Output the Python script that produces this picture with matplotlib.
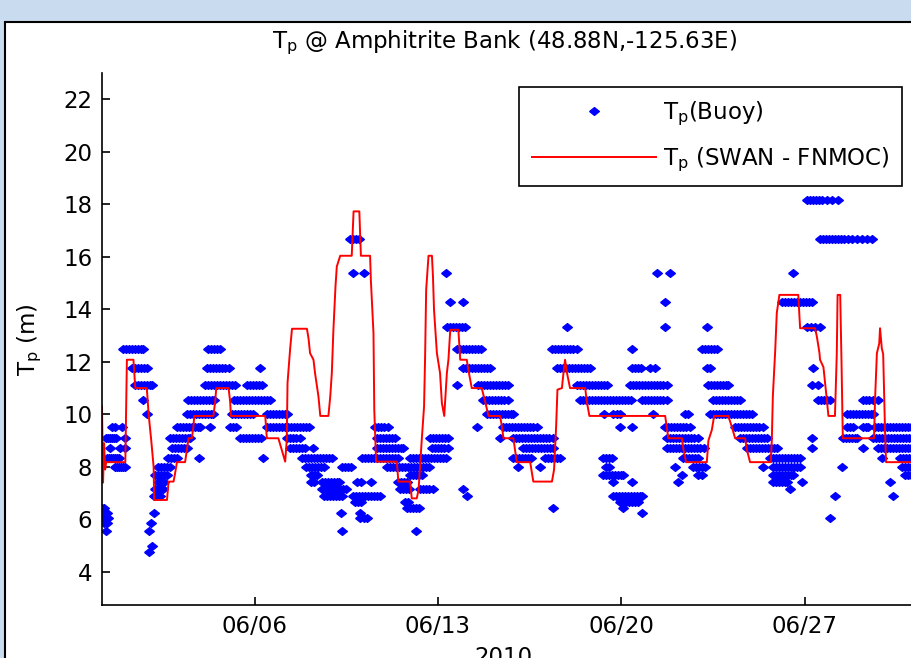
import matplotlib

matplotlib.use("Agg")
from datetime import datetime

import matplotlib.dates as mdates
import matplotlib.pyplot as plt
import numpy as np
from matplotlib.patches import Rectangle

# days after 2010-06-01 00:00
model_day = [
    -0.82, -0.78, -0.74, -0.70, -0.66, 0.07, 0.10, 0.13, 0.38, 0.45,
    0.89, 0.96, 1.06, 1.15, 1.17, 1.66, 1.72, 1.91, 1.97, 2.04,
    2.35, 2.42, 2.48, 2.61, 2.67, 2.70, 3.43, 3.50, 3.54, 4.01,
    4.07, 4.10, 5.41, 5.47, 5.91, 6.17, 6.23, 6.26, 6.36, 6.43,
    7.00, 7.06, 7.12, 7.25, 7.31, 7.44, 7.51, 7.82, 7.89, 7.95,
    8.01, 8.09, 8.14, 8.27, 8.71, 8.78, 9.00, 9.06, 9.41, 9.44,
    9.54, 9.57, 9.64, 10.43, 10.49, 10.94, 11.00, 11.19, 11.26, 11.39,
    11.47, 11.51, 11.55, 11.64, 11.77, 11.81, 11.85, 11.96, 12.08, 12.15,
    12.24, 12.34, 12.40, 12.47, 12.78, 12.85, 13.10, 13.16, 13.29, 13.67,
    13.80, 13.93, 14.37, 14.44, 14.50, 14.88, 14.94, 15.01, 15.52, 15.64,
    16.35, 16.43, 16.51, 16.56, 16.73, 16.79, 16.85, 16.92, 17.04, 17.62,
    17.68, 17.78, 20.67, 20.73, 20.79, 21.31, 21.37, 21.47, 22.26, 22.32,
    22.45, 22.54, 23.08, 23.21, 23.34, 23.72, 23.79, 23.91, 24.70, 24.74,
    24.78, 24.87, 24.93, 25.03, 25.75, 25.82, 26.39, 26.46, 26.56, 26.58,
    26.71, 26.84, 26.90, 27.15, 27.22, 27.25, 27.35, 27.40, 27.45, 28.64,
    28.68, 28.75, 28.84, 28.87, 28.94, 28.99, 29.06, 29.10, 30.09,
]
model_tp = [
    10.3, 7.4, 8.9, 7.9, 8.18, 8.18, 10.1, 12.08, 12.08, 11.0,
    11.0, 10.0, 9.0, 8.0, 6.74, 6.74, 7.44, 7.44, 7.76, 8.18,
    8.18, 8.65, 9.09, 9.09, 9.54, 9.94, 9.94, 10.49, 11.0, 11.0,
    10.49, 9.94, 9.94, 9.09, 9.09, 8.2, 9.0, 11.2, 12.5, 13.26,
    13.26, 12.9, 12.33, 12.08, 11.57, 10.68, 9.94, 9.94, 10.68, 11.57,
    13.2, 14.87, 15.63, 16.04, 16.04, 17.73, 17.73, 16.04, 16.04, 15.12,
    13.09, 10.17, 8.2, 8.2, 7.44, 7.44, 6.8, 6.8, 7.12, 9.15,
    10.3, 12.2, 14.74, 16.04, 16.04, 15.25, 13.98, 12.33, 11.57, 10.43,
    9.94, 11.57, 12.08, 13.22, 13.22, 12.08, 12.08, 11.7, 11.0, 11.0,
    10.49, 9.94, 9.94, 9.54, 9.09, 9.09, 8.65, 8.18, 8.18, 7.44,
    7.44, 7.89, 9.54, 10.94, 11.0, 11.57, 12.08, 11.6, 11.0, 11.0,
    10.49, 9.94, 9.94, 9.54, 9.09, 9.09, 8.65, 8.18, 8.18, 9.0,
    9.4, 9.94, 9.94, 9.54, 9.09, 9.09, 8.65, 8.18, 8.18, 9.0,
    10.7, 12.43, 13.86, 14.55, 14.55, 13.28, 13.28, 12.96, 12.33, 12.08,
    11.8, 10.56, 9.94, 9.94, 12.33, 14.55, 14.55, 12.0, 9.09, 9.09,
    10.56, 12.33, 12.7, 13.28, 12.5, 12.3, 9.4, 8.18, 8.18,
]

# buoy peak period bins and the days each bin was reported
buoy_bins = [
    (18.18, [26.09, 26.20, 26.31, 26.43, 26.54, 26.66, 26.85, 27.04, 27.27]),
    (16.67, [8.65, 8.76, 8.88, 8.99, 26.58, 26.70, 26.81, 26.93, 27.04, 27.15, 27.27, 27.38,
             27.50, 27.65, 27.80, 27.99, 28.18, 28.38, 28.57]),
    (15.38, [8.76, 9.18, 12.31, 20.36, 20.86, 25.55]),
    (14.29, [12.47, 12.96, 20.67, 25.13, 25.24, 25.36, 25.47, 25.59, 25.70, 25.82, 25.93, 26.04,
             26.16, 26.27]),
    (13.33, [12.35, 12.47, 12.58, 12.69, 12.81, 12.92, 13.04, 16.93, 20.67, 22.27, 26.09, 26.24,
             26.39, 26.58]),
    (12.5, [-0.01, 0.10, 0.22, 0.33, 0.45, 0.56, 0.68, 0.75, 3.23, 3.35, 3.46, 3.58, 3.69, 12.73,
            12.85, 12.96, 13.08, 13.19, 13.30, 13.42, 13.53, 13.65, 16.36, 16.47, 16.59, 16.70,
            16.81, 16.93, 17.04, 17.16, 17.31, 19.41, 22.08, 22.19, 22.31, 22.42, 22.54, 22.65]),
    (11.76, [0.33, 0.45, 0.56, 0.68, 0.79, 0.90, 3.19, 3.31, 3.42, 3.54, 3.65, 3.77, 3.88, 4.03,
             5.22, 12.96, 13.08, 13.19, 13.30, 13.42, 13.53, 13.65, 13.76, 13.88, 13.99, 16.55,
             16.66, 16.78, 16.89, 17.01, 17.12, 17.23, 17.35, 17.46, 17.58, 17.69, 17.81, 19.41,
             19.52, 19.64, 19.75, 20.10, 20.29, 22.27, 22.38, 26.31]),
    (11.11, [0.45, 0.56, 0.68, 0.79, 0.90, 1.02, 1.10, 3.12, 3.23, 3.35, 3.46, 3.58, 3.69, 3.80,
             3.92, 4.03, 4.15, 4.26, 4.72, 4.83, 4.95, 5.06, 5.18, 5.29, 12.73, 13.53, 13.65,
             13.76, 13.88, 13.99, 14.11, 14.22, 14.33, 14.45, 14.56, 14.68, 17.31, 17.42, 17.54,
             17.65, 17.77, 17.88, 18.00, 18.11, 18.23, 18.34, 18.46, 19.33, 19.45, 19.56, 19.68,
             19.79, 19.91, 20.02, 20.13, 20.25, 20.36, 20.48, 20.59, 20.74, 22.31, 22.42, 22.54,
             22.65, 22.77, 22.88, 23.00, 23.07, 26.27, 26.51]),
    (10.53, [0.75, 2.47, 2.58, 2.70, 2.81, 2.93, 3.04, 3.16, 3.27, 3.38, 3.46, 4.22, 4.34, 4.45,
             4.57, 4.68, 4.80, 4.91, 5.03, 5.14, 5.25, 5.37, 5.48, 5.60, 13.72, 13.84, 13.95,
             14.07, 14.18, 14.30, 14.41, 14.53, 14.68, 17.42, 17.54, 17.65, 17.77, 17.88, 18.00,
             18.11, 18.23, 18.34, 18.46, 18.57, 18.68, 18.80, 18.91, 19.03, 19.14, 19.26, 19.37,
             19.79, 19.91, 20.02, 20.13, 20.25, 20.36, 20.48, 20.59, 20.74, 22.50, 22.61, 22.73,
             22.84, 22.96, 23.07, 23.19, 23.30, 23.42, 23.53, 26.51, 26.62, 26.73, 26.85, 26.96,
             28.22, 28.34, 28.45, 28.60, 28.79]),
    (10.0, [0.90, 2.43, 2.55, 2.66, 2.77, 2.89, 3.00, 3.12, 3.23, 3.35, 3.42, 4.15, 4.26, 4.38,
            4.49, 4.61, 4.72, 4.83, 4.95, 5.48, 5.60, 5.71, 5.83, 5.94, 6.06, 6.17, 6.25, 13.88,
            13.99, 14.11, 14.22, 14.33, 14.45, 14.56, 14.68, 14.79, 14.87, 18.34, 18.68, 18.84,
            18.95, 20.21, 21.43, 21.55, 22.38, 22.50, 22.61, 22.73, 22.84, 22.96, 23.07, 23.19,
            23.30, 23.42, 23.53, 23.64, 23.76, 23.87, 23.99, 27.61, 27.73, 27.84, 27.96, 28.07,
            28.18, 28.30, 28.41, 28.53, 28.60]),
    (9.52, [-0.43, -0.32, -0.05, 2.05, 2.16, 2.28, 2.39, 2.51, 2.62, 2.74, 2.85, 2.93, 3.31, 4.07,
            4.19, 4.30, 5.48, 5.60, 5.71, 5.83, 5.94, 6.06, 6.17, 6.28, 6.40, 6.51, 6.63, 6.74,
            6.86, 6.97, 7.09, 9.60, 9.72, 9.83, 9.95, 10.10, 13.50, 14.49, 14.60, 14.72, 14.83,
            14.94, 15.06, 15.17, 15.29, 15.40, 15.52, 15.63, 15.78, 18.95, 19.41, 20.67, 20.78,
            20.90, 21.01, 21.13, 21.24, 21.35, 21.47, 21.62, 23.34, 23.45, 23.57, 23.68, 23.80,
            23.91, 24.03, 24.14, 24.25, 24.41, 27.61, 27.73, 27.84, 28.22, 28.34, 28.41, 28.68,
            28.79, 28.91, 29.02, 29.14, 29.25, 29.37, 29.48, 29.60, 29.71, 29.82, 29.94, 30.05]),
    (9.09, [-0.66, -0.58, -0.51, -0.43, -0.36, -0.28, 0.07, 1.78, 1.90, 2.01, 2.13, 2.24, 2.35,
            2.47, 2.55, 4.45, 4.57, 4.68, 4.80, 4.91, 5.03, 5.14, 5.25, 6.25, 6.36, 6.48, 6.59,
            6.74, 9.68, 9.79, 9.91, 10.02, 10.14, 10.25, 10.37, 11.70, 11.82, 11.93, 12.05, 12.16,
            12.27, 12.39, 14.37, 14.87, 14.98, 15.10, 15.21, 15.33, 15.44, 15.56, 15.67, 15.78,
            15.90, 16.01, 16.13, 16.24, 16.39, 20.74, 20.86, 20.97, 21.09, 21.20, 21.32, 21.43,
            21.55, 21.66, 21.77, 21.93, 23.53, 23.64, 23.76, 23.87, 23.99, 24.10, 24.22, 24.33,
            24.45, 24.56, 26.27, 27.46, 27.57, 27.69, 27.80, 27.92, 27.99, 28.60, 28.72, 28.83,
            28.95, 29.06, 29.18, 29.29, 29.41, 29.52, 29.63, 29.75, 29.86, 29.98, 30.09]),
    (8.7, [-0.51, -0.13, 0.07, 1.86, 1.97, 2.09, 2.20, 2.32, 2.43, 6.36, 6.48, 6.59, 6.70, 6.82,
           6.93, 7.24, 9.68, 9.79, 9.91, 10.02, 10.14, 10.25, 10.37, 10.48, 10.60, 10.67, 11.78,
           11.89, 12.01, 12.12, 12.24, 12.39, 15.25, 15.36, 15.48, 15.59, 15.71, 15.82, 15.94,
           16.05, 16.17, 16.28, 16.39, 20.74, 20.86, 20.97, 21.09, 21.20, 21.32, 21.43, 21.55,
           21.66, 21.77, 21.89, 22.00, 22.16, 23.80, 23.91, 24.03, 24.14, 24.25, 24.37, 24.48,
           24.60, 24.71, 24.83, 24.94, 26.27, 28.22, 28.79, 28.91, 29.02, 29.14, 29.25, 29.37,
           29.48, 29.60, 29.71, 29.82, 29.94, 30.05]),
    (8.33, [-0.62, -0.55, -0.47, -0.39, -0.32, -0.24, -0.16, 1.71, 1.82, 1.93, 2.05, 2.89, 5.33,
            6.82, 6.93, 7.05, 7.16, 7.28, 7.39, 7.51, 7.62, 7.73, 7.85, 7.96, 9.11, 9.22, 9.34,
            9.45, 9.57, 9.68, 9.79, 9.91, 10.02, 10.14, 10.25, 10.37, 10.48, 10.94, 11.05, 11.17,
            11.28, 11.40, 11.51, 11.63, 11.74, 11.85, 11.97, 12.08, 12.20, 12.31, 14.87, 14.98,
            15.10, 15.21, 15.33, 15.44, 15.56, 16.09, 16.20, 16.32, 16.43, 16.55, 16.66, 18.30,
            18.42, 18.53, 18.65, 21.35, 21.47, 21.58, 21.70, 21.81, 21.93, 24.67, 24.79, 24.90,
            25.02, 25.13, 25.25, 25.36, 25.48, 25.59, 25.70, 25.82, 28.95, 29.63, 29.75, 29.86,
            29.98, 30.09]),
    (8.0, [-0.32, -0.24, -0.16, -0.09, -0.01, 0.07, 1.32, 1.44, 1.55, 1.67, 1.78, 6.97, 7.09,
           7.20, 7.31, 7.43, 7.54, 7.66, 8.35, 8.46, 8.57, 8.69, 10.06, 10.18, 10.29, 10.41,
           10.52, 10.63, 10.75, 10.86, 10.98, 11.09, 11.21, 11.32, 11.44, 11.55, 11.66, 15.06,
           15.90, 18.42, 18.53, 21.05, 21.74, 21.85, 21.97, 22.08, 22.19, 24.41, 24.79, 24.90,
           25.02, 25.13, 25.25, 25.36, 25.48, 25.59, 25.70, 25.82, 27.42, 29.71, 29.82, 29.94,
           30.05]),
    (7.69, [1.21, 1.32, 1.44, 1.55, 1.67, 7.16, 7.28, 7.39, 10.94, 11.05, 11.17, 11.28, 11.40,
            18.30, 18.42, 18.53, 18.65, 18.76, 18.88, 18.99, 19.07, 21.32, 21.93, 22.08, 24.79,
            24.90, 25.02, 25.13, 25.25, 25.36, 25.48, 25.55, 29.82, 29.94, 30.05]),
    (7.41, [1.32, 1.44, 1.55, 7.16, 7.28, 7.58, 7.70, 7.81, 7.93, 8.04, 8.15, 8.23, 8.92, 9.07,
            9.45, 10.48, 10.60, 10.71, 10.82, 18.68, 19.41, 21.16, 24.79, 24.90, 25.02, 25.13,
            25.25, 25.32, 25.90, 29.25]),
    (7.14, [1.21, 1.32, 1.44, 1.52, 7.58, 7.70, 7.81, 7.93, 8.04, 8.15, 8.27, 8.38, 8.50, 10.56,
            10.67, 10.79, 10.90, 11.32, 11.44, 11.55, 11.66, 11.82, 12.96, 25.44]),
    (6.9, [1.17, 1.21, 1.29, 1.40, 7.66, 7.77, 7.89, 8.00, 8.12, 8.23, 8.35, 8.76, 8.88, 8.99,
           9.11, 9.22, 9.34, 9.45, 9.57, 9.68, 9.79, 13.11, 18.68, 18.80, 18.91, 19.03, 19.14,
           19.26, 19.37, 19.49, 19.60, 19.71, 19.79, 27.15, 29.37]),
    (6.67, [8.84, 8.96, 9.07, 10.75, 10.86, 18.95, 19.07, 19.18, 19.29, 19.41, 19.52, 19.64]),
    (6.45, [-0.81, -0.74, 10.82, 10.94, 11.05, 11.17, 11.28, 16.39, 19.07]),
    (6.25, [-0.85, -0.70, -0.62, 1.17, 8.31, 9.03, 19.79]),
    (6.06, [-0.78, -0.66, -0.58, 9.03, 9.18, 9.30, 26.96]),
    (5.88, [-0.74, -0.62, 1.06]),
    (5.56, [-0.66, 0.98, 8.35, 11.17]),
    (5.0, [1.10]),
    (4.76, [0.98]),
]

y_ticks = [4, 6, 8, 10, 12, 14, 16, 18, 20, 22]
x_tick_days = [5, 12, 19, 26]

plt.rcParams["font.family"] = "DejaVu Sans"
plt.rcParams["mathtext.default"] = "regular"

W, H = 912, 658
t0 = mdates.date2num(datetime(2010, 6, 1))

buoy_x = np.concatenate([t0 + np.array(days) for _, days in buoy_bins])
buoy_y = np.concatenate([np.full(len(days), level) for level, days in buoy_bins])

fig = plt.figure(figsize=(W / 100, H / 100), dpi=100)
fig.patch.set_facecolor("#c9dbef")
fig.add_artist(Rectangle((5 / W, -0.02), 1.0, 1 - 22 / H + 0.02, transform=fig.transFigure,
                         facecolor="white", edgecolor="black", lw=1.5, zorder=-5))

ax = fig.add_axes([102 / W, 53 / H, (W - 102) / W, 532 / H])
ax.set_facecolor("white")

diamond = [(-1, 0), (0, 0.8), (1, 0), (0, -0.8), (-1, 0)]
ax.plot(buoy_x, buoy_y, ls="none", marker=diamond, ms=7, color="#0000ff", mec="#0000ff",
        label="T$_p$(Buoy)")
ax.plot(t0 + np.array(model_day), model_tp, color="#ff0000", lw=1.4,
        label="T$_p$ (SWAN - FNMOC)")

ax.set_xlim(t0 - 0.82, t0 + 30.09)
ax.set_ylim(2.74, 23.0)
ax.set_yticks(y_ticks)
ax.set_xticks([t0 + d for d in x_tick_days])
ax.xaxis.set_major_formatter(mdates.DateFormatter("%m/%d"))
ax.spines["top"].set_visible(False)
ax.spines["right"].set_visible(False)
for s in ("left", "bottom"):
    ax.spines[s].set_linewidth(1.2)
ax.tick_params(direction="in", length=6, width=1.2, labelsize=16.5, pad=7)

leg = ax.legend(loc="upper right", bbox_to_anchor=(902 / W, 1 - 87 / H),
                bbox_transform=fig.transFigure, borderaxespad=0, fancybox=False,
                edgecolor="black", framealpha=1, fontsize=16.5, numpoints=1,
                handlelength=5.4, borderpad=0.55, labelspacing=0.75, handletextpad=0.3)
leg.get_frame().set_linewidth(1.2)

fig.text(505 / W, 1 - 48 / H, "T$_p$ @ Amphitrite Bank (48.88N,-125.63E)", ha="center",
         va="baseline", fontsize=16.5)
fig.text(30 / W, 1 - 340 / H, "T$_p$ (m)", rotation=90, ha="center", va="center", fontsize=16.5)
fig.text(503 / W, 1 - 646 / H, "2010", ha="center", va="top", fontsize=16.5)

fig.savefig("out.png", dpi=100, facecolor=fig.get_facecolor())
